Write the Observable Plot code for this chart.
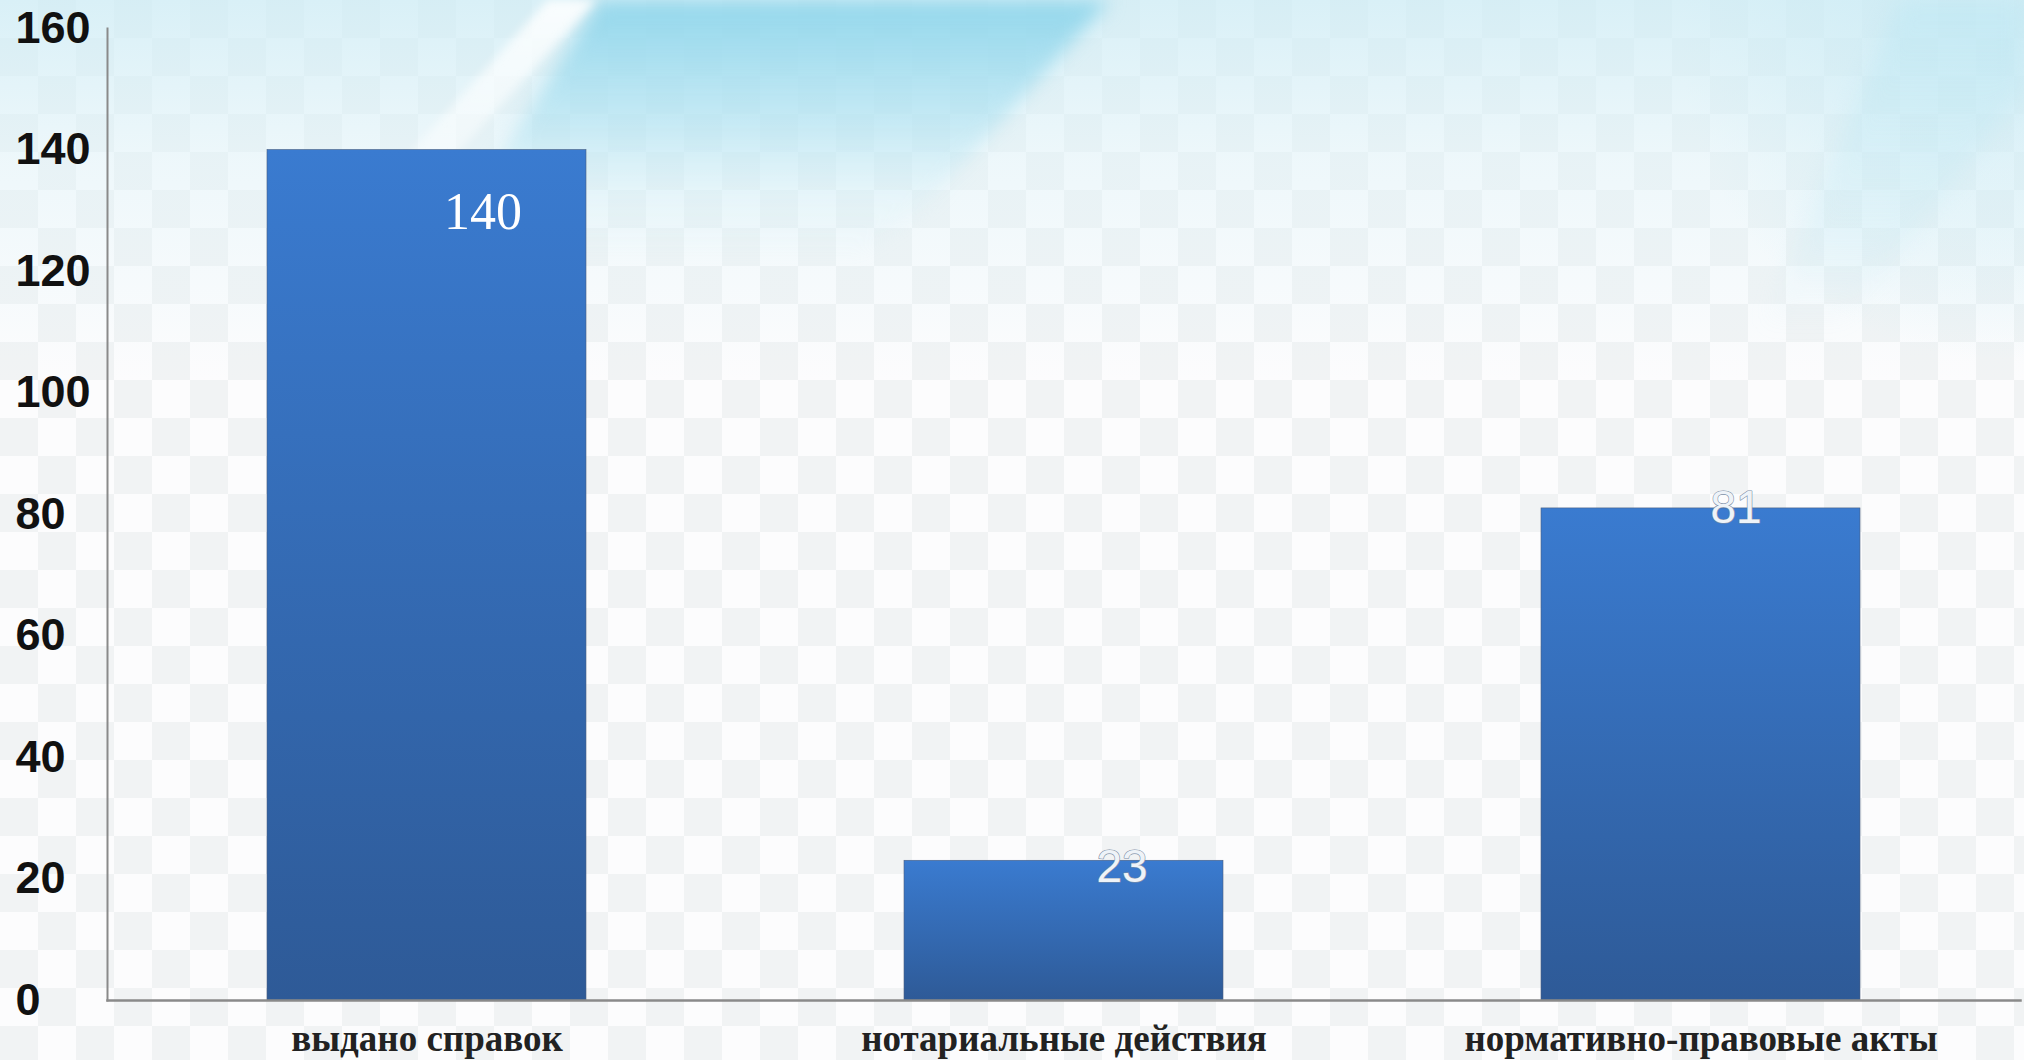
<!DOCTYPE html>
<html>
<head>
<meta charset="utf-8">
<script src="https://cdn.jsdelivr.net/npm/d3@7"></script>
<script src="https://cdn.jsdelivr.net/npm/@observablehq/plot@0.6"></script>
<style>
  html, body { margin: 0; padding: 0; overflow: hidden; }
  body {
    position: relative;
    width: 2024px; height: 1060px;
    background:
      linear-gradient(to bottom, rgba(205,236,245,0.75) 0px, rgba(220,242,248,0.45) 160px, rgba(255,255,255,0) 380px),
      radial-gradient(ellipse 320px 320px at 2000px 40px, rgba(170,224,240,0.5), rgba(255,255,255,0) 100%),
      repeating-conic-gradient(#f1f3f4 0 25%, #fcfcfd 0 50%) 0 0 / 76px 76px;
  }
  .blur { position: absolute; top: 0; left: 0; width: 2024px; height: 400px; pointer-events: none; }
  .deco { position: absolute; top: 0; left: 0; width: 2024px; height: 400px; }
  #cyanWrap { filter: blur(9px); }
  #cyan {
    background: linear-gradient(to bottom, rgba(140,212,234,0.9) 0px, rgba(160,220,238,0.65) 90px, rgba(200,236,246,0.25) 190px, rgba(255,255,255,0) 260px);
    clip-path: polygon(600px 0, 1110px 0, 930px 200px, 830px 280px, 420px 280px);
  }
  #streakWrap { filter: blur(5px); }
  #streak {
    background: linear-gradient(to bottom, rgba(255,255,255,0.85), rgba(255,255,255,0.35) 170px, rgba(255,255,255,0) 230px);
    clip-path: polygon(548px 0, 596px 0, 402px 215px, 354px 215px);
  }
  #streak2Wrap { filter: blur(10px); }
  #streak2 {
    background: linear-gradient(to bottom, rgba(185,230,242,0.45), rgba(200,236,246,0.2) 250px, rgba(255,255,255,0) 330px);
    clip-path: polygon(1900px 0, 2024px 0, 2024px 90px, 1840px 330px, 1760px 330px);
  }
  #chart { position: absolute; top: 0; left: 0; z-index: 2; }
  #chart svg { display: block; }
</style>
</head>
<body>
<div class="blur" id="cyanWrap"><div class="deco" id="cyan"></div></div>
<div class="blur" id="streak2Wrap"><div class="deco" id="streak2"></div></div>
<div class="blur" id="streakWrap"><div class="deco" id="streak"></div></div>
<div id="chart"></div>
<script>
const categories = ["выдано справок", "нотариальные действия", "нормативно-правовые акты"];
const values = [140, 23, 81];
const yTicks = [0, 20, 40, 60, 80, 100, 120, 140, 160];

const data = categories.map((c, i) => ({category: c, value: values[i]}));

const chart = Plot.plot({
  width: 2024,
  height: 1060,
  marginLeft: 107,
  marginRight: 4,
  marginTop: 28,
  marginBottom: 60,
  style: {background: "transparent", overflow: "visible"},
  x: {domain: categories, paddingInner: 0.5, paddingOuter: 0.25, label: null},
  y: {domain: [0, 160], ticks: yTicks, label: null},
  marks: [
    Plot.barY(data, {x: "category", y: "value", fill: "url(#barGrad)", stroke: "#4a5f80", strokeWidth: 0.6}),
    Plot.frame({anchor: "left", stroke: "#8a8a8a", strokeWidth: 2}),
    Plot.frame({anchor: "bottom", stroke: "#8a8a8a", strokeWidth: 2.5}),
    Plot.axisY({ticks: yTicks, tickSize: 0, tickPadding: 92, textAnchor: "start",
      fontSize: 45, fontWeight: "bold", fontFamily: "Liberation Sans, Arial, sans-serif", fill: "#111", label: null}),
    Plot.axisX({tickSize: 0, tickPadding: 24, fontSize: 37, fontWeight: "bold",
      fontFamily: "Liberation Serif, Times New Roman, serif", fill: "#222", label: null}),
    Plot.text(data.slice(0, 1), {x: "category", y: "value", text: d => String(d.value),
      dx: 56, dy: 62, fill: "#ffffff", fontSize: 52, fontFamily: "Liberation Serif, Times New Roman, serif"}),
    Plot.text(data.slice(1, 2), {x: "category", y: "value", text: d => String(d.value),
      dx: 58, dy: 6, fill: "#eef3f8", stroke: "#7e8fa6", strokeWidth: 1.2, paintOrder: "stroke",
      fontSize: 46, fontFamily: "Liberation Sans, Arial, sans-serif"}),
    Plot.text(data.slice(2, 3), {x: "category", y: "value", text: d => String(d.value),
      dx: 35, dy: 0, fill: "#eef3f8", stroke: "#7e8fa6", strokeWidth: 1.2, paintOrder: "stroke",
      fontSize: 46, fontFamily: "Liberation Sans, Arial, sans-serif"})
  ]
});

const svg = d3.select(chart);
const defs = svg.insert("defs", ":first-child");
const g = defs.append("linearGradient").attr("id", "barGrad")
  .attr("x1", 0).attr("y1", 0).attr("x2", 0).attr("y2", 1);
g.append("stop").attr("offset", "0%").attr("stop-color", "#3a7bd0");
g.append("stop").attr("offset", "100%").attr("stop-color", "#2e5a97");

document.getElementById("chart").appendChild(chart);
</script>
</body>
</html>
